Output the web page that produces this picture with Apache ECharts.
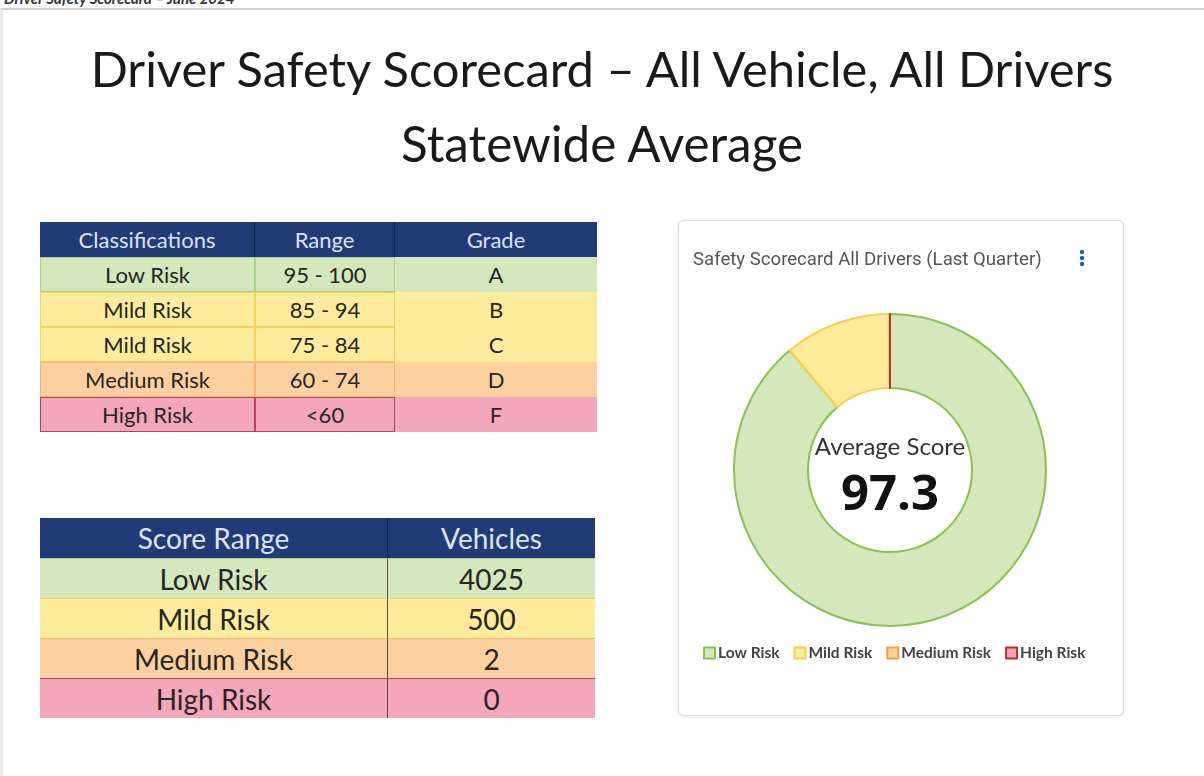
<!DOCTYPE html>
<html><head><meta charset="utf-8">
<script src="https://cdn.jsdelivr.net/npm/echarts@6/dist/echarts.min.js"></script>
<style>
html,body{margin:0;padding:0;}
body{width:1204px;height:776px;overflow:hidden;background:#fff;position:relative;font-family:Lato,"Open Sans",sans-serif;}
#topstrip{position:absolute;left:0;top:0;width:1204px;height:9px;overflow:hidden;}
#topstrip span{position:absolute;left:4px;top:-11px;font-size:15px;font-weight:bold;font-style:italic;color:#333;white-space:nowrap;}
#frame{position:absolute;left:0;top:8px;width:1204px;height:768px;border-top:2px solid #cfcfcf;border-left:3px solid #ececec;box-sizing:border-box;}
.ttl{position:absolute;left:0;width:1204px;text-align:center;color:#1a1a1a;white-space:nowrap;}
.ttl span{display:inline-block;}
.cell{position:absolute;box-sizing:border-box;display:flex;align-items:center;justify-content:center;color:#262626;white-space:nowrap;}
#card{position:absolute;left:678px;top:220px;width:446px;height:496px;box-sizing:border-box;border:1px solid #dcdcdc;border-radius:6px;box-shadow:0 1px 4px rgba(0,0,0,0.10);background:#fff;}
#chart{position:absolute;left:678px;top:220px;width:446px;height:496px;}
</style></head>
<body>
<div id="topstrip"><span>Driver Safety Scorecard – June 2024</span></div>
<div id="frame"></div>
<div class="ttl" id="t1" style="top:39px;"><span>Driver Safety Scorecard – All Vehicle, All Drivers</span></div>
<div class="ttl" id="t2" style="top:113px;"><span>Statewide Average</span></div>
<div id="tables"></div>
<div id="card"></div>
<div id="chart"></div>
<script>
// ---- data ----
const classHeaders = ['Classifications', 'Range', 'Grade'];
const classNames = ['Low Risk', 'Mild Risk', 'Mild Risk', 'Medium Risk', 'High Risk'];
const classRanges = ['95 - 100', '85 - 94', '75 - 84', '60 - 74', '<60'];
const classGrades = ['A', 'B', 'C', 'D', 'F'];
const classRisk = ['low', 'mild', 'mild', 'medium', 'high'];
const scoreHeaders = ['Score Range', 'Vehicles'];
const riskNames = ['Low Risk', 'Mild Risk', 'Medium Risk', 'High Risk'];
const vehicleCounts = [4025, 500, 2, 0];
const averageLabel = 'Average Score';
const averageScore = 97.3;
const cardTitle = 'Safety Scorecard All Drivers (Last Quarter)';

// ---- styles ----
const fills = {low:'#d4e7bd', mild:'#ffeb9c', medium:'#fcd19f', high:'#f4a6bb'};
const lines = {low:'#a9d08e', mild:'#f3d35c', medium:'#f2b27a', high:'#b8405e'};
const riskKeys = ['low', 'mild', 'medium', 'high'];
const headerBg = '#203c77';
const headerFg = '#dde4f1';

// fit title widths
function fit(id, target) {
  const sp = document.querySelector('#' + id + ' span');
  sp.style.fontSize = '40px';
  const w = sp.getBoundingClientRect().width;
  sp.style.fontSize = (40 * target / w).toFixed(2) + 'px';
}
fit('t1', 1023);
fit('t2', 402);

const host = document.getElementById('tables');
function cell(x, y, w, h, text, opt) {
  const d = document.createElement('div');
  d.className = 'cell';
  d.style.left = x + 'px'; d.style.top = y + 'px';
  d.style.width = w + 'px'; d.style.height = h + 'px';
  d.textContent = text;
  Object.assign(d.style, opt || {});
  host.appendChild(d);
}

// table 1
(function () {
  const x0 = 40, y0 = 222, colW = [215, 140, 202], headH = 35, rowH = 35;
  let x = x0;
  classHeaders.forEach((h, i) => {
    cell(x, y0, colW[i], headH, h, {background: headerBg, color: headerFg, fontSize: '22px',
      borderRight: i < 2 ? '1px solid #15264a' : 'none'});
    x += colW[i];
  });
  classNames.forEach((n, r) => {
    const y = y0 + headH + r * rowH, k = classRisk[r];
    const cols = [n, classRanges[r], classGrades[r]];
    let cx = x0;
    cols.forEach((t, c) => {
      const st = {background: fills[k], fontSize: '22px'};
      if (c < 2) st.border = '1px solid ' + lines[k];
      cell(cx, y, colW[c], rowH, t, st);
      cx += colW[c];
    });
  });
})();

// table 2
(function () {
  const x0 = 40, y0 = 518, colW = [348, 207], headH = 40, rowH = 40;
  let x = x0;
  scoreHeaders.forEach((h, i) => {
    cell(x, y0, colW[i], headH, h, {background: headerBg, color: headerFg, fontSize: '28px',
      borderRight: i < 1 ? '1px solid #15264a' : 'none'});
    x += colW[i];
  });
  riskNames.forEach((n, r) => {
    const y = y0 + headH + r * rowH, k = riskKeys[r];
    const cols = [n, String(vehicleCounts[r])];
    let cx = x0;
    cols.forEach((t, c) => {
      const st = {background: fills[k], fontSize: '28px', borderTop: '1px solid ' + lines[k]};
      if (c === 0) st.borderRight = '1px solid #5a4a3a';
      cell(cx, y, colW[c], rowH, t, st);
      cx += colW[c];
    });
  });
})();

// ---- donut ----
const chart = echarts.init(document.getElementById('chart'), null, {renderer: 'canvas'});
const pieFill = {low:'#d5e8bb', mild:'#ffeb99', medium:'#fbd49a', high:'#f3a3b6'};
const pieLine = {low:'#8cc152', mild:'#f6d24a', medium:'#f0a23a', high:'#b83232'};
chart.setOption({
  animation: false,
  title: {
    text: cardTitle, left: 10, top: 26,
    textStyle: {fontFamily: 'Roboto', fontSize: 18.6, fontWeight: 'normal', color: '#555'}
  },
  legend: {
    data: riskNames, left: 20, top: 420, icon: 'rect', itemWidth: 11, itemHeight: 11, itemGap: 14,
    textStyle: {fontFamily: 'Lato', fontSize: 15.5, fontWeight: 'bold', color: '#444', padding: [0, 0, 0, -2]}
  },
  graphic: [
    {type: 'circle', shape: {cx: 404, cy: 32, r: 2.2}, style: {fill: '#1e5fb4'}},
    {type: 'circle', shape: {cx: 404, cy: 38, r: 2.2}, style: {fill: '#1e5fb4'}},
    {type: 'circle', shape: {cx: 404, cy: 44, r: 2.2}, style: {fill: '#1e5fb4'}},
    {type: 'text', x: 212, y: 227, style: {text: averageLabel, fontFamily: 'Lato', fontSize: 24, fill: '#333', align: 'center', verticalAlign: 'middle'}},
    {type: 'text', x: 212, y: 276, style: {text: String(averageScore), fontFamily: 'Open Sans', fontWeight: 'bold', fontSize: 49, fill: '#111', align: 'center', verticalAlign: 'middle'}}
  ],
  series: [{
    type: 'pie',
    center: [212, 250],
    radius: [82, 156],
    startAngle: 90,
    clockwise: true,
    label: {show: false},
    labelLine: {show: false},
    emphasis: {disabled: true},
    data: riskNames.map((n, i) => ({
      name: n, value: vehicleCounts[i],
      itemStyle: {color: pieFill[riskKeys[i]], borderColor: pieLine[riskKeys[i]], borderWidth: 2}
    }))
  }]
});
</script>
</body></html>
